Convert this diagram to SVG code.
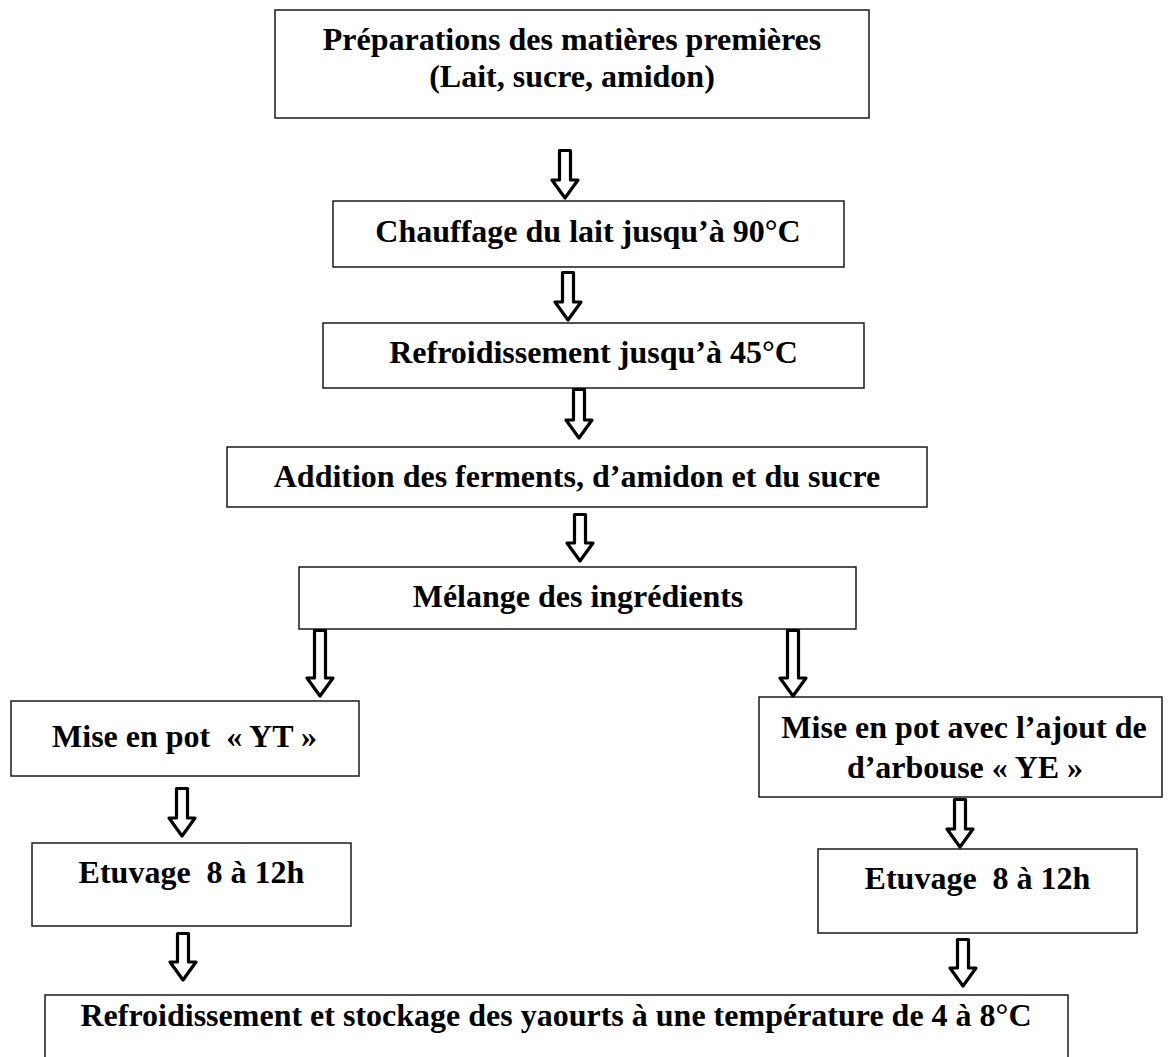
<svg xmlns="http://www.w3.org/2000/svg" width="1174" height="1057" viewBox="0 0 1174 1057">
<style>
.box{fill:#fff;stroke:#1a1a1a;stroke-width:1.5}
.t{font-family:"Liberation Serif","Times New Roman",serif;font-weight:bold;font-size:32px;fill:#000;text-anchor:middle}
.arr{fill:#fff;stroke:#000;stroke-width:3.2;stroke-linejoin:round}
</style>
<rect width="1174" height="1057" fill="#fff"/>
<g id="n1"><rect class="box" x="275" y="10" width="594" height="108"/><text class="t" x="572" y="50">Préparations des matières premières</text><text class="t" x="572" y="87">(Lait, sucre, amidon)</text></g>
<g id="n2"><rect class="box" x="333" y="201" width="511" height="66"/><text class="t" x="588" y="242">Chauffage du lait jusqu’à 90°C</text></g>
<g id="n3"><rect class="box" x="323" y="323" width="541" height="65"/><text class="t" x="593.5" y="363">Refroidissement jusqu’à 45°C</text></g>
<g id="n4"><rect class="box" x="227" y="447" width="700" height="60"/><text class="t" x="577" y="487">Addition des ferments, d’amidon et du sucre</text></g>
<g id="n5"><rect class="box" x="299" y="567" width="557" height="62"/><text class="t" x="578" y="607">Mélange des ingrédients</text></g>
<g id="n6"><rect class="box" x="11" y="701" width="348" height="75"/><text class="t" x="184.5" y="747">Mise en pot&#160; « YT »</text></g>
<g id="n7"><rect class="box" x="759" y="697" width="403" height="100"/><text class="t" x="964" y="738">Mise en pot avec l’ajout de</text><text class="t" x="965" y="778">d’arbouse « YE »</text></g>
<g id="n8"><rect class="box" x="32" y="843" width="319" height="83"/><text class="t" x="191.5" y="883">Etuvage&#160; 8 à 12h</text></g>
<g id="n9"><rect class="box" x="818" y="849" width="319" height="84"/><text class="t" x="977.5" y="889">Etuvage&#160; 8 à 12h</text></g>
<g id="n10"><rect class="box" x="45" y="995" width="1023" height="80"/><text class="t" x="556" y="1026">Refroidissement et stockage des yaourts à une température de 4 à 8°C</text></g>
<g id="connectors">
<path class="arr" d="M559.5,150.5 H570.5 V180 H578 L565,198 L552,180 H559.5 Z"/>
<path class="arr" d="M562.5,272.5 H573.5 V302 H581 L568,320 L555,302 H562.5 Z"/>
<path class="arr" d="M573.5,389.5 H584.5 V420 H592 L579,438 L566,420 H573.5 Z"/>
<path class="arr" d="M574.5,514.5 H585.5 V543 H593 L580,561 L567,543 H574.5 Z"/>
<path class="arr" d="M314.5,630.5 H325.5 V678 H333 L320,696 L307,678 H314.5 Z"/>
<path class="arr" d="M787.5,630.5 H798.5 V678 H806 L793,696 L780,678 H787.5 Z"/>
<path class="arr" d="M176.5,788.5 H187.5 V818 H195 L182,836 L169,818 H176.5 Z"/>
<path class="arr" d="M954.5,799.5 H965.5 V829 H973 L960,847 L947,829 H954.5 Z"/>
<path class="arr" d="M177.5,933.5 H188.5 V962 H196 L183,980 L170,962 H177.5 Z"/>
<path class="arr" d="M957.5,939.5 H968.5 V968 H976 L963,986 L950,968 H957.5 Z"/>
</g>
</svg>
